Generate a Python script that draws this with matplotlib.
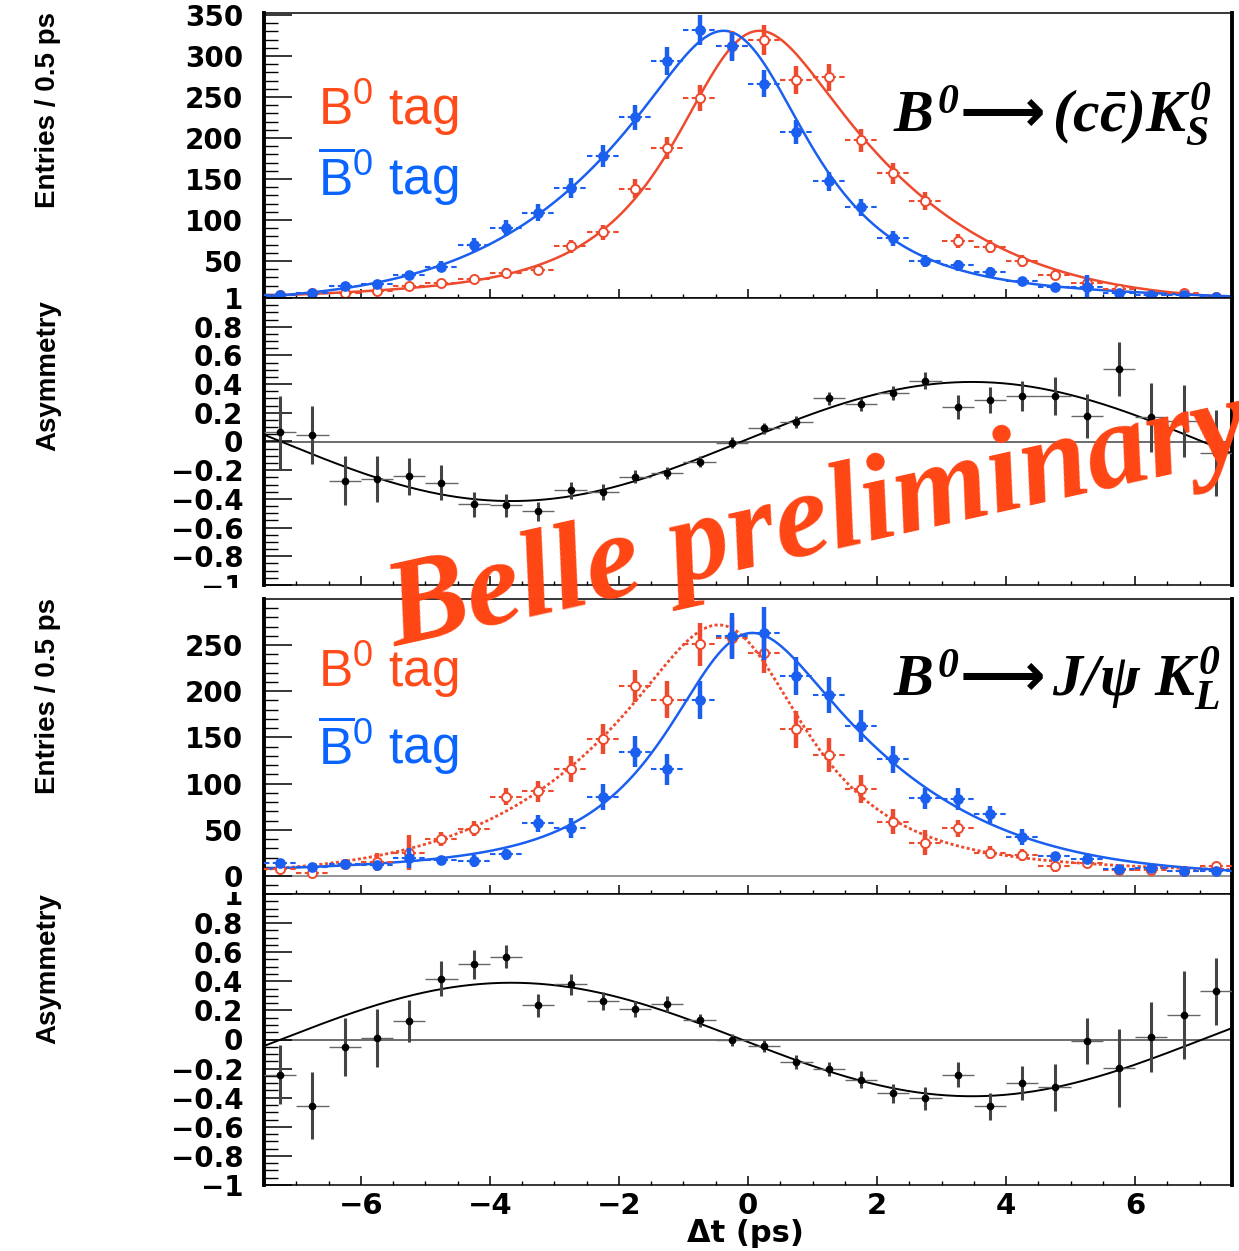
import numpy as np
import matplotlib
matplotlib.use("Agg")
import matplotlib.pyplot as plt
from matplotlib.ticker import MultipleLocator, FuncFormatter
from matplotlib.transforms import Bbox, TransformedBbox

plt.rcParams["font.family"] = ["DejaVu Sans"]
plt.rcParams["font.weight"] = "bold"
plt.rcParams["mathtext.fontset"] = "custom"
plt.rcParams["mathtext.rm"] = "Liberation Serif:italic:bold"
plt.rcParams["mathtext.it"] = "Liberation Serif:italic:bold"
plt.rcParams["mathtext.bf"] = "Liberation Serif:italic:bold"
plt.rcParams["mathtext.sf"] = "Liberation Sans:weight=normal"
plt.rcParams["mathtext.tt"] = "DejaVu Sans:weight=bold"
plt.rcParams["mathtext.fallback"] = "stix"

# ---- Data ----
dt = [-7.25, -6.75, -6.25, -5.75, -5.25, -4.75, -4.25, -3.75, -3.25, -2.75,
      -2.25, -1.75, -1.25, -0.75, -0.25, 0.25, 0.75, 1.25, 1.75, 2.25,
      2.75, 3.25, 3.75, 4.25, 4.75, 5.25, 5.75, 6.25, 6.75, 7.25]
half_bin = 0.25

# B0 -> (ccbar) K0S
ks_b0 = [9, 10.5, 11, 13, 20, 23, 27.6, 35, 39, 68,
         85, 138, 188, 249, 312.6, 319.5, 270.7, 274, 197, 157,
         123, 74, 67.5, 50, 33, 23.6, 15.4, 8.5, 10.6, 6.5]
ks_b0_err = [3, 3.2, 3.3, 3.6, 4.5, 4.8, 5.3, 5.9, 6.2, 8.2,
             9.2, 11.7, 13.7, 15.8, 17.7, 17.9, 16.5, 16.6, 14, 12.5,
             11.1, 8.6, 8.2, 7.1, 5.7, 4.9, 3.9, 2.9, 5, 2.5]
ks_b0bar = [8.5, 11, 20, 22, 32.5, 43, 69.5, 90, 109, 139,
            178.5, 225, 294, 332, 312, 266, 207, 147, 115.5, 77.6,
            50.4, 45, 37, 26, 18, 18, 10.6, 8.5, 8.5, 6.5]
ks_b0bar_err = [3, 3.5, 4.5, 4.7, 5.7, 6.5, 8.3, 9.5, 10.4, 11.8,
                13.4, 15, 17, 18.2, 17.7, 16.3, 14.4, 12.1, 10.7, 8.8,
                7.1, 6.7, 6.1, 5.1, 4.2, 15, 3.3, 2.9, 2.9, 2.5]
ks_asym = [0.065, 0.044, -0.273, -0.259, -0.243, -0.287, -0.438, -0.443, -0.487, -0.34,
           -0.352, -0.245, -0.219, -0.14, -0.007, 0.091, 0.135, 0.30, 0.261, 0.34,
           0.424, 0.24, 0.29, 0.317, 0.317, 0.177, 0.506, 0.168, 0.145, -0.08]
ks_asym_err = [0.255, 0.2, 0.17, 0.16, 0.13, 0.12, 0.087, 0.08, 0.068, 0.06,
               0.055, 0.045, 0.04, 0.04, 0.035, 0.04, 0.04, 0.045, 0.045, 0.05,
               0.06, 0.085, 0.09, 0.105, 0.13, 0.155, 0.19, 0.24, 0.25, 0.3]

# B0 -> J/psi K0L
kl_b0 = [7.9, 3.6, 13, 15, 25, 39.7, 51, 86, 91.6, 115.6,
         148, 205.6, 191, 250.7, 258, 241.7, 158.7, 131, 93.8, 58.8,
         36.2, 51.4, 25, 22.7, 11, 13.7, 6.5, 6.9, 5.4, 10.8]
kl_b0_err = [4, 5.4, 5, 10, 19, 7.6, 8, 9.6, 11, 14,
             16, 17.5, 20, 23, 22, 22.5, 20, 18, 15, 13.5,
             14, 9.4, 7, 6, 7, 5, 3, 3, 3, 3]
kl_b0bar = [13.7, 9.4, 12.6, 11.5, 19.8, 17, 16.2, 23.4, 57, 51.6,
            85.9, 134.5, 115.4, 190.5, 259.7, 262.6, 216.5, 195.5, 162.3, 126.3,
            84, 83.3, 66.7, 42.4, 21.4, 18.5, 7.2, 8.3, 5, 5.6]
kl_b0bar_err = [3, 3, 3.5, 4, 11, 5, 6, 6, 9, 11,
                14, 16.6, 17, 20.7, 25, 29, 20.7, 19.5, 17, 14.4,
                11.7, 11.4, 9.4, 8.5, 5, 6, 3, 3, 2, 2]
kl_asym = [-0.241, -0.455, -0.053, 0.009, 0.126, 0.418, 0.517, 0.57, 0.234, 0.379,
           0.264, 0.207, 0.241, 0.133, -0.005, -0.046, -0.154, -0.202, -0.276, -0.368,
           -0.405, -0.241, -0.46, -0.299, -0.329, -0.011, -0.195, 0.018, 0.168, 0.331]
kl_asym_err = [0.2, 0.23, 0.2, 0.2, 0.145, 0.12, 0.1, 0.077, 0.08, 0.07,
               0.06, 0.055, 0.055, 0.045, 0.04, 0.04, 0.05, 0.05, 0.06, 0.065,
               0.08, 0.085, 0.09, 0.12, 0.16, 0.16, 0.27, 0.24, 0.3, 0.23]

# ---- Fit model parameters (effective) ----
tau_eff = 1.8        # ps
sigma_res = 0.6      # ps
omega_eff = 0.44     # 1/ps
t_zero = -0.1        # ps
ks_peak, ks_centre, ks_bkg, ks_amp = 645.0, -0.1, 0.0, 0.415
kl_peak, kl_centre, kl_bkg, kl_amp = 520.0, -0.2, 3.0, -0.39

RED = "#ee4a2e"
BLUE = "#1a5ff0"
TXT_RED = "#ff4a1a"
TXT_BLUE = "#0a64ff"
BELLE = "#ff4514"

W, H = 1239, 1251


def decay_shape(t, centre):
    # exp(-|t|/tau) smeared with a gaussian resolution, peak normalised to 1
    grid = np.linspace(-15, 15, 3001)
    lap = np.exp(-np.abs(grid) / tau_eff)
    gauss = np.exp(-grid ** 2 / (2 * sigma_res ** 2))
    conv = np.convolve(lap, gauss, mode="same")
    conv = conv / conv.max()
    return np.interp(t - centre, grid, conv)


def asym_curve(t, amp):
    return amp * np.sin(omega_eff * (t - t_zero))


t_fine = np.linspace(-7.5, 7.5, 500)

ks_total = ks_peak * decay_shape(t_fine, ks_centre) + ks_bkg
ks_a = asym_curve(t_fine, ks_amp)
kl_total = kl_peak * decay_shape(t_fine, kl_centre) + kl_bkg
kl_a = asym_curve(t_fine, kl_amp)


def fmt(v, pos):
    s = f"{round(v, 6):g}"
    if s == "-0":
        s = "0"
    return s.replace("-", "\u2212")


def style_axes(ax, ymajor, yminor, ylim, xlabels=False):
    ax.set_xlim(-7.5, 7.5)
    ax.set_ylim(*ylim)
    ax.xaxis.set_major_locator(MultipleLocator(2))
    ax.xaxis.set_minor_locator(MultipleLocator(0.5))
    ax.yaxis.set_major_locator(MultipleLocator(ymajor))
    ax.yaxis.set_minor_locator(MultipleLocator(yminor))
    ax.yaxis.set_major_formatter(FuncFormatter(fmt))
    ax.xaxis.set_major_formatter(FuncFormatter(fmt))
    ax.tick_params(axis="y", which="major", direction="in", length=20, width=1.1,
                   pad=15, labelsize=20, right=False)
    ax.tick_params(axis="y", which="minor", direction="in", length=10, width=1.0,
                   right=False)
    ax.tick_params(axis="x", which="major", direction="in", length=6.5, width=1.1,
                   pad=5, labelsize=21, top=False, labelbottom=xlabels)
    ax.tick_params(axis="x", which="minor", direction="in", length=3.2, width=1.0,
                   top=False)
    for side in ["left", "right"]:
        ax.spines[side].set_linewidth(2.8)
    for side in ["top", "bottom"]:
        ax.spines[side].set_linewidth(1.1)


def draw_hist(ax, y, yerr, color, filled, zo):
    eb = ax.errorbar(dt, y, xerr=half_bin, fmt="none", ecolor=color,
                     elinewidth=1.5, zorder=zo)
    eb[2][0].set_linestyle((0, (2.6, 1.6)))
    ax.errorbar(dt, y, yerr=yerr, fmt="none", ecolor=color, elinewidth=3.2,
                zorder=zo)
    if filled:
        ax.plot(dt, y, "o", ms=6.5, mfc=color, mec=color, mew=1.2, zorder=zo + 1)
    else:
        ax.plot(dt, y, "o", ms=6.5, mfc="white", mec=color, mew=1.4, zorder=zo + 1)


def draw_asym(ax, y, yerr, curve):
    ax.axhline(0, color="#444444", lw=1.1, zorder=1)
    ax.plot(t_fine, curve, color="black", lw=1.4, zorder=2)
    ax.errorbar(dt, y, xerr=half_bin, fmt="none", ecolor="#666666",
                elinewidth=1.0, zorder=3)
    ax.errorbar(dt, y, yerr=yerr, fmt="none", ecolor="#444444",
                elinewidth=2.2, zorder=3)
    ax.plot(dt, y, "o", ms=4.5, color="black", zorder=4)


fig = plt.figure(figsize=(W / 100, H / 100), dpi=100)

left = 264 / W
width = (1232 - 264) / W


def add_panel(top_px, bottom_px):
    return fig.add_axes([left, 1 - bottom_px / H, width, (bottom_px - top_px) / H])


ax1 = add_panel(12.5, 298)
ax2 = add_panel(298, 585)
ax3 = add_panel(599, 894)
ax4 = add_panel(894, 1185)

# ---- Panel 1: (ccbar) K0S yields ----
style_axes(ax1, 50, 10, (4.9, 353))
ax1.plot(t_fine, ks_total * (1 + ks_a) / 2, color=RED, lw=1.8, zorder=2)
ax1.plot(t_fine, ks_total * (1 - ks_a) / 2, color=BLUE, lw=1.8, zorder=2)
draw_hist(ax1, ks_b0, ks_b0_err, RED, False, 3)
draw_hist(ax1, ks_b0bar, ks_b0bar_err, BLUE, True, 5)

# ---- Panel 2: (ccbar) K0S asymmetry ----
style_axes(ax2, 0.2, 0.05, (-1, 1))
ax2.yaxis.set_major_formatter(FuncFormatter(lambda v, p: "" if v < -0.99 else fmt(v, p)))
draw_asym(ax2, ks_asym, ks_asym_err, ks_a)

# ---- Panel 3: J/psi K0L yields ----
style_axes(ax3, 50, 10, (-19.5, 299.8))
ax3.axhline(0, color="#777777", lw=1.1, zorder=1)
ax3.plot(t_fine, kl_total * (1 + kl_a) / 2, color=RED, lw=2.0,
         ls=(0, (1.1, 0.9)), zorder=2)
ax3.plot(t_fine, kl_total * (1 - kl_a) / 2, color=BLUE, lw=1.8, zorder=2)
draw_hist(ax3, kl_b0, kl_b0_err, RED, False, 3)
draw_hist(ax3, kl_b0bar, kl_b0bar_err, BLUE, True, 5)

# ---- Panel 4: J/psi K0L asymmetry ----
style_axes(ax4, 0.2, 0.05, (-1, 1), xlabels=True)
ax4.yaxis.set_major_formatter(FuncFormatter(lambda v, p: "" if v > 0.99 else fmt(v, p)))
draw_asym(ax4, kl_asym, kl_asym_err, kl_a)

# tick labels that are partly hidden by the neighbouring pads
lab = fig.text(243 / W, 1 - 585 / H, "\u22121", ha="right", va="center_baseline",
               fontsize=20)
lab.set_clip_box(TransformedBbox(Bbox([[0, 1 - 588 / H], [1, 1]]), fig.transFigure))
lab.set_clip_on(True)
lab = fig.text(243 / W, 1 - 894 / H, "1", ha="right", va="center_baseline",
               fontsize=20)
lab.set_clip_box(TransformedBbox(Bbox([[0, 0], [1, 1 - 892 / H]]), fig.transFigure))
lab.set_clip_on(True)

# ---- Axis titles ----
for top_px, txt in [(12, "Entries / 0.5 ps"), (300, "Asymmetry"),
                    (598, "Entries / 0.5 ps"), (893, "Asymmetry")]:
    fig.text(48 / W, 1 - top_px / H, txt, rotation=90, ha="center", va="top",
             fontsize=20, family=["Liberation Sans", "DejaVu Sans"])
fig.text(745 / W, 1 - 1233 / H, "\u0394t (ps)", ha="center", va="center",
         fontsize=22)

# ---- Legends and decay modes ----
for base, txt, col in [(125, r"$\mathsf{B^{0}}$ tag", TXT_RED),
                       (195, r"$\mathsf{\overline{B}^{0}}$ tag", TXT_BLUE),
                       (687, r"$\mathsf{B^{0}}$ tag", TXT_RED),
                       (764, r"$\mathsf{\overline{B}^{0}}$ tag", TXT_BLUE)]:
    fig.text(318 / W, 1 - base / H, txt, color=col, fontsize=37,
             fontweight="normal", family="Liberation Sans", ha="left",
             va="baseline")

fig.text(893 / W, 1 - 132 / H, "$B^0\\mathtt{\u27f6}\\,(c\\bar{c})K^0_S$",
         fontsize=43, ha="left", va="baseline")
fig.text(893 / W, 1 - 697 / H, "$B^0\\mathtt{\u27f6}\\,J/\\psi\\ K^0_L$",
         fontsize=43, ha="left", va="baseline")

# ---- Watermark ----
fig.text(395 / W, 1 - 647 / H, "Belle preliminary", color=BELLE, fontsize=88,
         family="Liberation Serif", style="italic", fontweight="bold",
         rotation=12.5, rotation_mode="anchor", ha="left", va="baseline",
         zorder=20)

fig.savefig("out.png", dpi=100)
